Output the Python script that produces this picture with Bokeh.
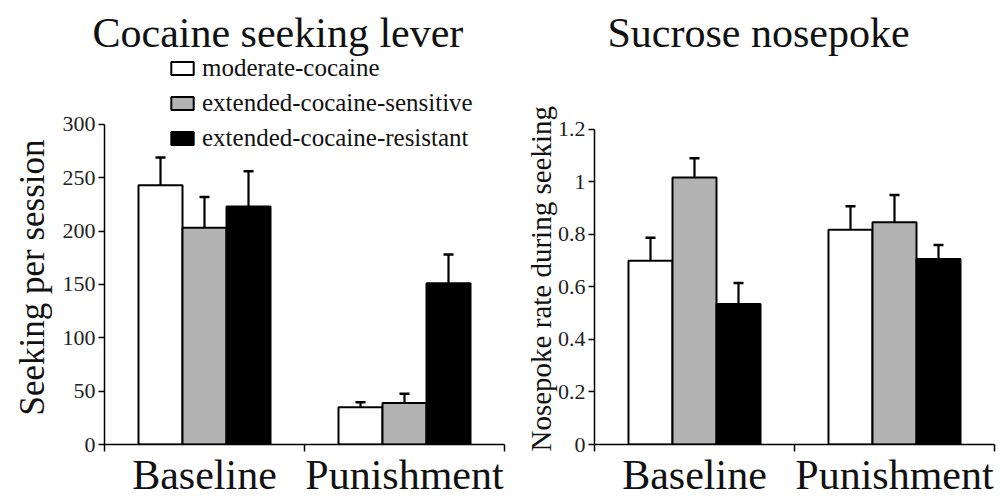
from bokeh.plotting import figure
from bokeh.layouts import row
from bokeh.models import (Range1d, FixedTicker, Whisker, TeeHead, ColumnDataSource,
                          Legend, LegendItem, Title)
from bokeh.embed import file_html
from bokeh.resources import INLINE

phases = ["Baseline", "Punishment"]
groups = ["moderate-cocaine", "extended-cocaine-sensitive", "extended-cocaine-resistant"]
colors = ["#ffffff", "#b3b3b3", "#000000"]

# Cocaine seeking lever (seeking per session)
seek_mean = {"moderate-cocaine": [243, 35],
             "extended-cocaine-sensitive": [203, 39],
             "extended-cocaine-resistant": [223, 151]}
seek_err = {"moderate-cocaine": [26, 4.5],
            "extended-cocaine-sensitive": [29, 8.5],
            "extended-cocaine-resistant": [33, 27]}

# Sucrose nosepoke (rate during seeking)
nose_mean = {"moderate-cocaine": [0.70, 0.818],
             "extended-cocaine-sensitive": [1.017, 0.846],
             "extended-cocaine-resistant": [0.535, 0.706]}
nose_err = {"moderate-cocaine": [0.087, 0.089],
            "extended-cocaine-sensitive": [0.073, 0.104],
            "extended-cocaine-resistant": [0.08, 0.054]}

seek_ticks = [0, 50, 100, 150, 200, 250, 300]
nose_ticks = [0, 0.2, 0.4, 0.6, 0.8, 1.0, 1.2]
nose_tick_labels = ["0", "0.2", "0.4", "0.6", "0.8", "1", "1.2"]

SERIF = "Liberation Serif"
BAR_W = 0.22
OFFS = [-0.22, 0.0, 0.22]


def make_panel(title, ylabel, ylabel_size, means, errs, ticks, tick_labels,
               width, height, bl, br, bt, bb, headroom, ylab_offset, ylab_standoff,
               legend=False, title_offset=0):
    ymax = ticks[-1]
    p = figure(width=width, height=height, output_backend="svg", toolbar_location=None,
               x_range=Range1d(0, len(phases)), y_range=Range1d(0, ymax * headroom),
               min_border_left=bl, min_border_right=br, min_border_top=bt,
               min_border_bottom=bb)
    p.outline_line_color = None
    p.grid.visible = False
    p.background_fill_color = "white"
    p.border_fill_color = "white"

    items = []
    for gi, g in enumerate(groups):
        xs = [i + 0.5 + OFFS[gi] for i in range(len(phases))]
        src = ColumnDataSource(dict(x=xs, top=means[g],
                                    up=[m + e for m, e in zip(means[g], errs[g])]))
        w = Whisker(base="x", lower="top", upper="up", source=src, dimension="height",
                    line_color="black", line_width=2.2,
                    upper_head=TeeHead(size=10, line_width=2.5, line_color="black"),
                    lower_head=None, level="underlay")
        p.add_layout(w)
        r = p.vbar(x="x", top="top", width=BAR_W, bottom=0, source=src,
                   fill_color=colors[gi], line_color="black", line_width=2)
        items.append(LegendItem(label=g, renderers=[r]))

    # axes
    yax = p.yaxis[0]
    yax.bounds = (0, ymax)
    yax.ticker = FixedTicker(ticks=ticks)
    yax.major_label_overrides = {t: l for t, l in zip(ticks, tick_labels)}
    yax.major_label_text_font = SERIF
    yax.major_label_text_font_size = "22px"
    yax.major_label_text_color = "#222222"
    yax.major_tick_in = 0
    yax.major_tick_out = 6
    yax.minor_tick_line_color = None
    yax.axis_line_width = 1.5
    yax.major_tick_line_width = 1.5
    yax.major_label_standoff = 3

    xax = p.xaxis[0]
    xax.ticker = FixedTicker(ticks=[i + 0.5 for i in range(len(phases))],
                             minor_ticks=list(range(len(phases) + 1)))
    xax.major_label_overrides = {i + 0.5: ph for i, ph in enumerate(phases)}
    xax.major_label_text_font = SERIF
    xax.major_label_text_font_size = "42px"
    xax.major_label_text_color = "#111111"
    xax.major_tick_line_color = None
    xax.major_tick_in = 0
    xax.major_tick_out = 0
    xax.minor_tick_in = 0
    xax.minor_tick_out = 7
    xax.minor_tick_line_width = 1.5
    xax.axis_line_width = 1.5
    xax.major_label_standoff = 0

    t = Title(text=title, text_font=SERIF, text_font_size="42px",
              text_font_style="normal", align="left", offset=title_offset,
              text_color="#111111", standoff=-6)
    p.add_layout(t, "above")

    yt = Title(text=ylabel, text_font=SERIF, text_font_size=ylabel_size,
               text_font_style="normal", align="left", offset=ylab_offset,
               text_color="#111111", standoff=ylab_standoff)
    p.add_layout(yt, "left")

    if legend:
        lg = Legend(items=items, location=(64, 292), orientation="vertical",
                    label_text_font=SERIF, label_text_font_size="25px",
                    label_text_color="#111111",
                    glyph_width=28, glyph_height=16, label_standoff=6,
                    spacing=7, padding=0, margin=0, border_line_color=None,
                    background_fill_alpha=0, label_height=16)
        p.add_layout(lg, "center")
    return p


p1 = make_panel("Cocaine seeking lever", "Seeking per session", "35px",
                seek_mean, seek_err, seek_ticks, [str(t) for t in seek_ticks],
                width=508, height=500, bl=104, br=4, bt=52, bb=55,
                headroom=1.2243, ylab_offset=29, ylab_standoff=15,
                legend=True, title_offset=-12)
p2 = make_panel("Sucrose nosepoke", "Nosepoke rate during seeking", "29px",
                nose_mean, nose_err, nose_ticks, nose_tick_labels,
                width=490, height=500, bl=86, br=4, bt=52, bb=55,
                headroom=1.2437, ylab_offset=-7, ylab_standoff=-5,
                legend=False, title_offset=13)

layout = row(p1, p2)
open("out.html", "w").write(file_html(layout, INLINE))
